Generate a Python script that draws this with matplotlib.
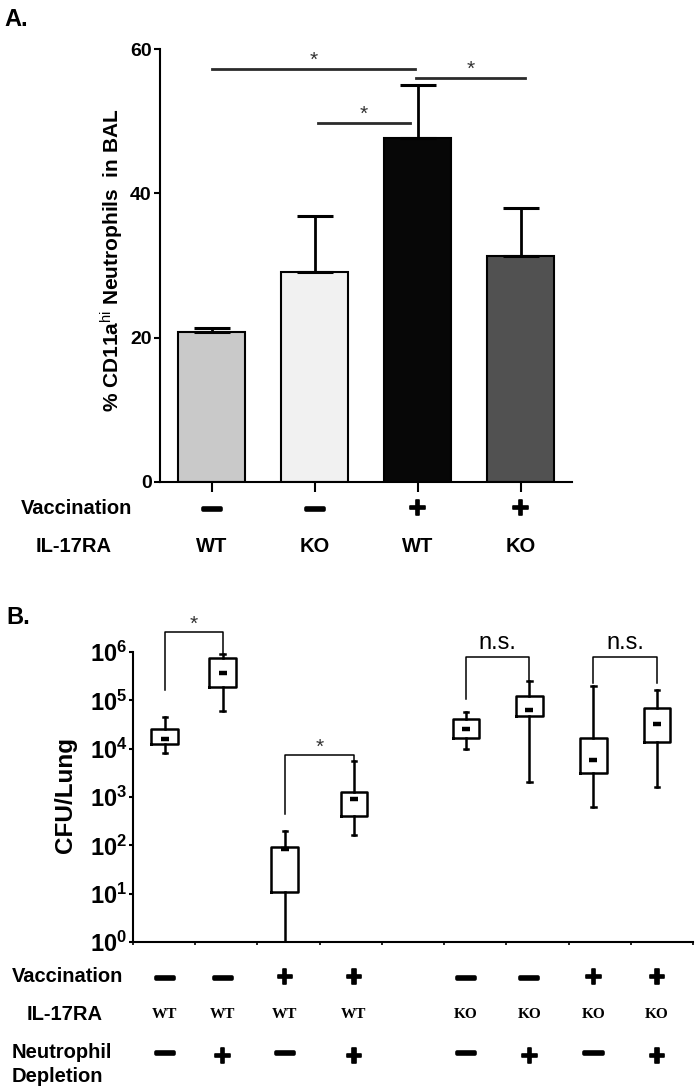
import matplotlib
matplotlib.use('Agg')
import matplotlib.pyplot as plt
import matplotlib.transforms as mtransforms
import matplotlib.patheffects as pe
from matplotlib.ticker import FixedLocator, FuncFormatter, NullLocator
import numpy as np

plt.rcParams['font.family'] = ['Liberation Sans', 'DejaVu Sans']
plt.rcParams['mathtext.fontset'] = 'custom'
plt.rcParams['mathtext.rm'] = 'Liberation Sans'
plt.rcParams['mathtext.bf'] = 'Liberation Sans:bold'
plt.rcParams['mathtext.it'] = 'Liberation Sans:italic'

# ---------------- Panel A data ----------------
a_vaccination = ['—', '—', '+', '+']
a_genotype = ['WT', 'KO', 'WT', 'KO']
a_means = [20.8, 29.1, 47.6, 31.3]
a_err_upper = [0.6, 7.7, 7.4, 6.6]
a_colors = ['#c9c9c9', '#f1f1f1', '#070707', '#515151']
a_yticks = [0, 20, 40, 60]
a_sig_x1 = [0.0, 1.99, 1.03]
a_sig_x2 = [1.98, 3.04, 1.93]
a_sig_y = [57.2, 56.0, 49.8]

# ---------------- Panel B data ----------------
b_vaccination = ['—', '—', '+', '+', '—', '—', '+', '+']
b_genotype = ['WT', 'WT', 'WT', 'WT', 'KO', 'KO', 'KO', 'KO']
b_depletion = ['—', '+', '—', '+', '—', '+', '—', '+']
b_whishi = [4.5e4, 9.1e5, 200, 5.5e3, 5.8e4, 2.5e5, 2.0e5, 1.6e5]
b_q3 = [2.6e4, 7.4e5, 92, 1.26e3, 4.1e4, 1.23e5, 1.7e4, 6.8e4]
b_med = [1.6e4, 3.7e5, 83, 890, 2.6e4, 6.2e4, 5.8e3, 3.2e4]
b_q1 = [1.25e4, 1.9e5, 10.7, 410, 1.7e4, 4.7e4, 3.2e3, 1.4e4]
b_whislo = [8.1e3, 6.0e4, 1.0, 160, 1.0e4, 2.0e3, 620, 1.6e3]
b_yticks = [1e0, 1e1, 1e2, 1e3, 1e4, 1e5, 1e6]
# brackets: left box index, right box index, left leg bottom, top, right leg bottom, label
b_br_left = [0, 2, 4, 6]
b_br_right = [1, 3, 5, 7]
b_br_left_low = [1.6e5, 450, 1.07e5, 2.3e5]
b_br_top = [2.6e6, 7.4e3, 7.9e5, 7.9e5]
b_br_right_low = [9.5e5, 5.6e3, 2.4e5, 2.3e5]
b_br_labels = ['*', '*', 'n.s.', 'n.s.']

# ---------------- layout ----------------
W, H = 699, 1092
fig = plt.figure(figsize=(W / 100, H / 100), dpi=100)

def fx(px):
    return px / W

def fy(py):
    return 1 - py / H

dash_fx = [pe.withStroke(linewidth=2.6, foreground='black')]
plus_fx = [pe.withStroke(linewidth=1.2, foreground='black')]

def sym_style(s):
    if s == '+':
        return dict(fontsize=21, path_effects=plus_fx)
    return dict(fontsize=13, path_effects=dash_fx)

# ================= Panel A =================
axA = fig.add_axes([fx(160), fy(482), (572 - 160) / W, (482 - 49) / H])
xa = np.arange(len(a_means))
axA.bar(xa, a_means, width=0.66, color=a_colors, edgecolor='black', linewidth=1.5,
        yerr=[np.zeros(len(a_means)), a_err_upper], capsize=13,
        error_kw=dict(elinewidth=2, capthick=2.2, ecolor='black'), zorder=2)
axA.set_xlim(-0.5, 3.5)
axA.set_ylim(0, 60)
axA.spines['top'].set_visible(False)
axA.spines['right'].set_visible(False)
for s in ('left', 'bottom'):
    axA.spines[s].set_linewidth(1.5)
axA.yaxis.set_major_locator(FixedLocator(a_yticks))
axA.set_xticks(xa)
axA.set_xticklabels([])
axA.tick_params(axis='y', length=4, width=1.5, pad=2, labelsize=14)
axA.tick_params(axis='x', length=7, width=1.5)
for lab in axA.get_yticklabels():
    lab.set_fontweight('bold')
axA.set_ylabel(r'% CD11a$^{\rm hi}$ Neutrophils  in BAL', fontsize=15, fontweight='bold')
axA.yaxis.set_label_coords(-0.082, 0.513)

for x1, x2, y in zip(a_sig_x1, a_sig_x2, a_sig_y):
    axA.plot([x1, x2], [y, y], color='#2b2b2b', lw=2, clip_on=False, zorder=3)
    axA.text((x1 + x2) / 2, y + 0.4, '*', ha='center', va='baseline', fontsize=15,
             color='#333333')

transA = mtransforms.blended_transform_factory(axA.transData, fig.transFigure)
fig.text(fx(77), fy(508), 'Vaccination', ha='center', va='center', fontsize=14.5,
         fontweight='bold')
fig.text(fx(74), fy(547), 'IL-17RA', ha='center', va='center', fontsize=14.5,
         fontweight='bold')
for i, (v, g) in enumerate(zip(a_vaccination, a_genotype)):
    axA.text(i, fy(509), v, transform=transA, ha='center', va='center',
             fontweight='bold', **sym_style(v))
    axA.text(i, fy(547), g, transform=transA, ha='center', va='center', fontsize=14.5,
             fontweight='bold')

fig.text(fx(4), fy(19), 'A.', ha='left', va='center', fontsize=17, fontweight='bold')

# ================= Panel B =================
axB = fig.add_axes([fx(133), fy(942), (693 - 133) / W, (942 - 652) / H])
b_pos = [0.51, 1.44, 2.44, 3.55, 5.35, 6.37, 7.40, 8.42]
stats = []
for i in range(len(b_med)):
    stats.append(dict(med=b_med[i], q1=b_q1[i], q3=b_q3[i], whislo=b_whislo[i],
                      whishi=b_whishi[i], fliers=[]))
axB.set_yscale('log')
axB.bxp(stats, positions=b_pos, widths=0.43, capwidths=0.07, showfliers=False,
        boxprops=dict(linewidth=1.8, color='black'),
        whiskerprops=dict(linewidth=1.8, color='black'),
        capprops=dict(linewidth=1.8, color='black'),
        medianprops=dict(linewidth=0), manage_ticks=False)
axB.plot(b_pos, b_med, linestyle='none', marker='_', markersize=5.5,
         markeredgewidth=3.2, color='black')
axB.set_xlim(0, 9)
axB.set_ylim(1, 1e6)
axB.spines['top'].set_visible(False)
axB.spines['right'].set_visible(False)
for s in ('left', 'bottom'):
    axB.spines[s].set_linewidth(1.5)
axB.yaxis.set_major_locator(FixedLocator(b_yticks))
axB.yaxis.set_minor_locator(NullLocator())
axB.yaxis.set_major_formatter(FuncFormatter(
    lambda v, p: r'$\mathbf{10^{%d}}$' % int(round(np.log10(v)))))
axB.set_xticks(np.arange(0, 10))
axB.set_xticklabels([])
axB.tick_params(axis='y', length=3, width=1.5, pad=1, labelsize=17)
axB.tick_params(axis='x', length=2, width=1.2)
axB.set_ylabel('CFU/Lung', fontsize=17.5, fontweight='bold')
axB.yaxis.set_label_coords(-0.1, 0.507)

for li, ri, ylo, ytop, yro, lab in zip(b_br_left, b_br_right, b_br_left_low, b_br_top,
                                       b_br_right_low, b_br_labels):
    x1, x2 = b_pos[li], b_pos[ri]
    axB.plot([x1, x1, x2, x2], [ylo, ytop, ytop, yro], color='black', lw=1.1,
             clip_on=False)
    if lab == '*':
        axB.text((x1 + x2) / 2, ytop * 1.1, '*', ha='center', va='baseline',
                 fontsize=15, color='#333333')
    else:
        axB.text((x1 + x2) / 2, ytop * 1.15, lab, ha='center', va='bottom',
                 fontsize=17)

transB = mtransforms.blended_transform_factory(axB.transData, fig.transFigure)
fig.text(fx(12), fy(977), 'Vaccination', ha='left', va='center', fontsize=14.5,
         fontweight='bold')
fig.text(fx(65), fy(1014), 'IL-17RA', ha='center', va='center', fontsize=14.5,
         fontweight='bold')
fig.text(fx(12), fy(1052), 'Neutrophil', ha='left', va='center', fontsize=14.5,
         fontweight='bold')
fig.text(fx(12), fy(1077), 'Depletion', ha='left', va='center', fontsize=14.5,
         fontweight='bold')
for i, (v, g, d) in enumerate(zip(b_vaccination, b_genotype, b_depletion)):
    x = b_pos[i]
    axB.text(x, fy(978), v, transform=transB, ha='center', va='center',
             fontweight='bold', **sym_style(v))
    axB.text(x, fy(1014), g, transform=transB, ha='center', va='center', fontsize=11,
             fontweight='bold', family=['Liberation Serif', 'DejaVu Serif'])
    axB.text(x, fy(1053) if d == '—' else fy(1057), d, transform=transB, ha='center',
             va='center', fontweight='bold', **sym_style(d))

fig.text(fx(6), fy(617), 'B.', ha='left', va='center', fontsize=17, fontweight='bold')

fig.savefig('out.png', dpi=100)
